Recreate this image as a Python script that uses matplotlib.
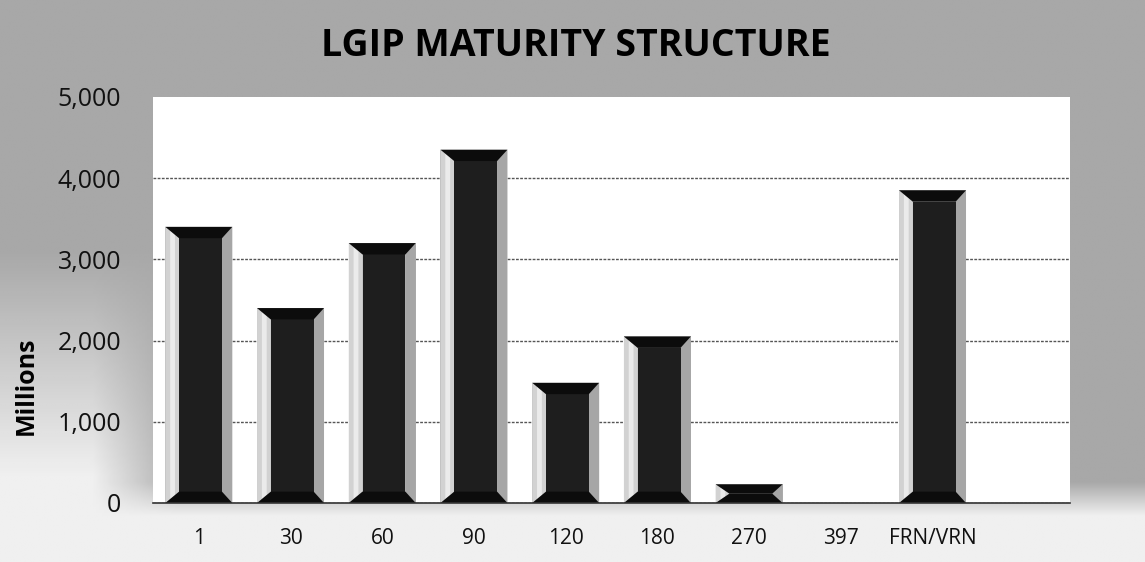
import numpy as np
import matplotlib.pyplot as plt
from matplotlib.patches import Polygon
from matplotlib.ticker import FuncFormatter

categories = ['1', '30', '60', '90', '120', '180', '270', '397', 'FRN/VRN']
values = [3400, 2400, 3200, 4350, 1480, 2050, 230, 0, 3850]

plt.rcParams['font.family'] = ['Open Sans', 'DejaVu Sans']

fig = plt.figure(figsize=(11.45, 5.62), dpi=100)
fig.patch.set_facecolor('#a8a8a8')

# scanned page look: grey background, lighter towards the bottom and lower left
bg = fig.add_axes([0, 0, 1, 1], zorder=-5)
yy, xx = np.mgrid[0:1:200j, 0:1:400j]
shade = 0.66 + 0.28 * np.clip((0.55 - yy) / 0.4, 0, 1) * np.clip((0.16 - xx) / 0.08, 0, 1)
bottom = np.clip((0.14 - yy) / 0.06, 0, 1)
shade = shade * (1 - bottom) + 0.94 * bottom
bg.imshow(shade, cmap='gray', vmin=0, vmax=1, origin='lower', extent=[0, 1, 0, 1],
          aspect='auto', interpolation='bilinear')
bg.axis('off')

ax = fig.add_axes([0.1336, 0.105, 0.801, 0.7226])
ax.set_facecolor('white')

x = list(range(len(categories)))
bars = ax.bar(x, values, width=0.73, color='#b4b4b4', edgecolor='none', zorder=2)

# bevel look: light left edge, grey right edge, dark face, black top/bottom
bx = 0.15   # bevel width in x units
by = 140    # bevel height in data units
for b in bars:
    x0, w, h = b.get_x(), b.get_width(), b.get_height()
    if h <= 0:
        continue
    x1 = x0 + w
    e = min(by, h / 2)
    ax.add_patch(Polygon([(x0, 0), (x0 + bx, e), (x0 + bx, h - e), (x0, h)],
                         facecolor='#d2d2d2', edgecolor='none', zorder=3))
    ax.add_patch(Polygon([(x0 + bx * 0.35, e * 0.35), (x0 + bx * 0.7, e * 0.7),
                          (x0 + bx * 0.7, h - e * 0.7), (x0 + bx * 0.35, h - e * 0.35)],
                         facecolor='#ebebeb', edgecolor='none', zorder=3))
    ax.add_patch(Polygon([(x1, 0), (x1 - bx * 0.75, e), (x1 - bx * 0.75, h - e), (x1, h)],
                         facecolor='#a6a6a6', edgecolor='none', zorder=3))
    ax.add_patch(Polygon([(x0 + bx, e), (x1 - bx * 0.75, e),
                          (x1 - bx * 0.75, h - e), (x0 + bx, h - e)],
                         facecolor='#1e1e1e', edgecolor='none', zorder=3))
    ax.add_patch(Polygon([(x0, h), (x1, h), (x1 - bx * 0.75, h - e), (x0 + bx, h - e)],
                         facecolor='#0c0c0c', edgecolor='none', zorder=4))
    ax.add_patch(Polygon([(x0, 0), (x1, 0), (x1 - bx * 0.75, e), (x0 + bx, e)],
                         facecolor='#0c0c0c', edgecolor='none', zorder=4))

ax.set_xlim(-0.5, 9.5)
ax.set_ylim(0, 5000)
ax.set_yticks(range(0, 5001, 1000))
ax.yaxis.set_major_formatter(FuncFormatter(lambda v, p: f'{int(v):,}'))
ax.set_xticks(x)
ax.set_xticklabels(categories)
ax.tick_params(axis='y', length=0, pad=23, labelsize=18, labelcolor='#111111')
ax.tick_params(axis='x', length=0, pad=18, labelsize=15, labelcolor='#111111')
ax.yaxis.grid(True, color='#555555', linewidth=1.0, linestyle=(0, (2, 1)), zorder=1)
ax.get_ygridlines()[-1].set_visible(False)
ax.set_axisbelow(True)

for s in ['top', 'right', 'left']:
    ax.spines[s].set_visible(False)
ax.spines['bottom'].set_color('#333333')
ax.spines['bottom'].set_linewidth(1.2)
ax.spines['bottom'].set_zorder(5)

fig.text(26 / 1145, 1 - 386 / 562, 'Millions', rotation=90, ha='center', va='center',
         fontsize=18, fontweight='bold')
fig.text(0.503, 0.918, 'LGIP MATURITY STRUCTURE', ha='center', va='center',
         fontsize=27, fontweight='bold')

plt.savefig('out.png', dpi=100, facecolor=fig.get_facecolor())
